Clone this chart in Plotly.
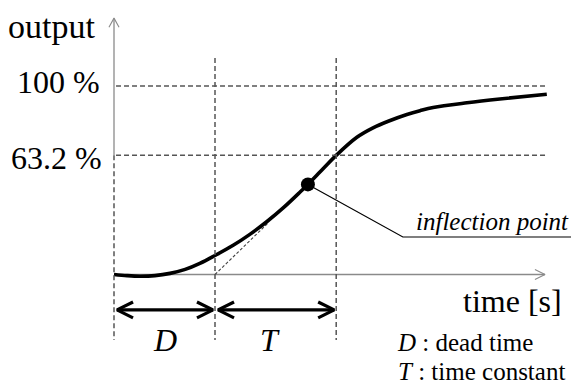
import plotly.graph_objects as go

# Step response of a first-order-plus-dead-time process (schematic)
time_s = [0.0, 0.26, 0.51, 0.81, 1.11, 1.41, 1.70, 2.00, 2.36, 2.69, 3.03, 3.35,
          3.68, 3.84, 4.14, 4.40, 4.81, 5.13, 5.47, 5.80, 6.06, 6.32, 6.99, 7.64, 8.57]
output_pct = [0.0, -0.6, -0.9, -0.6, 0.6, 2.7, 5.9, 10.1, 15.5, 21.3, 28.1, 35.3,
              43.6, 47.8, 56.1, 63.2, 72.8, 77.8, 81.7, 84.9, 86.9, 88.6, 91.1, 93.1, 95.6]

dead_time = 2.0        # D
time_constant = 2.4    # T
inflection_index = 13  # sample at the inflection point

ref_levels = [100, 63.2]
level_labels = ["100 %", "63.2 %"]

FONT = "Liberation Serif"
GRID = "#555555"
AXIS = "#8a8a8a"
DASH = "5px,3px"

# Scale: 50.5 px per second, 1.885 px per percent
X_RANGE = [-2.2574, 9.0495]
Y_RANGE = [-60.74, 145.62]

t_inf = time_s[inflection_index]
v_inf = output_pct[inflection_index]
t_end = dead_time + time_constant

fig = go.Figure()

# horizontal reference levels
for lvl in ref_levels:
    fig.add_shape(type="line", x0=0.04, x1=8.55, y0=lvl, y1=lvl,
                  line=dict(color=GRID, width=1.5, dash=DASH))

# vertical guide lines at 0, D and D+T
fig.add_shape(type="line", x0=0, x1=0, y0=ref_levels[1], y1=-34.7,
              line=dict(color=GRID, width=1.5, dash=DASH))
for tv in [dead_time, t_end]:
    fig.add_shape(type="line", x0=tv, x1=tv, y0=114.9, y1=-34.7,
                  line=dict(color=GRID, width=1.5, dash=DASH))

# axes with open arrowheads
fig.add_trace(go.Scatter(x=[0, 8.535], y=[0, 0], mode="lines",
                         line=dict(color=AXIS, width=1.3), hoverinfo="skip"))
fig.add_trace(go.Scatter(x=[8.535 - 0.2, 8.535, 8.535 - 0.2], y=[2.65, 0, -2.65],
                         mode="lines", line=dict(color=AXIS, width=1.1), hoverinfo="skip"))
fig.add_trace(go.Scatter(x=[0, 0], y=[ref_levels[1], 136], mode="lines",
                         line=dict(color=AXIS, width=1.3), hoverinfo="skip"))
fig.add_trace(go.Scatter(x=[-0.1, 0, 0.1], y=[136 - 4.8, 136, 136 - 4.8],
                         mode="lines", line=dict(color=AXIS, width=1.1), hoverinfo="skip"))

# tangent at the inflection point, from (D, 0)
slope = v_inf / (t_inf - dead_time)
tan_t = [dead_time, 3.05]
tan_v = [slope * (tv - dead_time) for tv in tan_t]
fig.add_trace(go.Scatter(x=tan_t, y=tan_v, mode="lines",
                         line=dict(color="#404040", width=1.1, dash="3px,2px"),
                         hoverinfo="skip"))

# response curve
fig.add_trace(go.Scatter(x=time_s, y=output_pct, mode="lines",
                         line=dict(color="black", width=3.6, shape="spline", smoothing=1.0),
                         hoverinfo="skip"))

# callout line to the label
fig.add_trace(go.Scatter(x=[t_inf, 5.72, 9.2], y=[v_inf, 19.9, 19.9], mode="lines",
                         line=dict(color="black", width=1.2), hoverinfo="skip"))
fig.add_trace(go.Scatter(x=[t_inf], y=[v_inf], mode="markers",
                         marker=dict(color="black", size=14), hoverinfo="skip"))

# double-headed interval arrows for D and T
ARROW_Y = -18.8
HL, HW = 0.317, 4.24
for a, b in [(0, dead_time), (dead_time, t_end)]:
    a2, b2 = a + 0.06, b - 0.04
    fig.add_trace(go.Scatter(x=[a2, b2], y=[ARROW_Y, ARROW_Y], mode="lines",
                             line=dict(color="black", width=3.2), hoverinfo="skip"))
    fig.add_trace(go.Scatter(x=[a2 + HL, a2, a2 + HL], y=[ARROW_Y + HW, ARROW_Y, ARROW_Y - HW],
                             mode="lines", line=dict(color="black", width=3.2), hoverinfo="skip"))
    fig.add_trace(go.Scatter(x=[b2 - HL, b2, b2 - HL], y=[ARROW_Y + HW, ARROW_Y, ARROW_Y - HW],
                             mode="lines", line=dict(color="black", width=3.2), hoverinfo="skip"))

ann = []
def label(text, x, y, size, xanchor="center", yanchor="middle", xshift=0, yshift=0):
    ann.append(dict(text=text, x=x, y=y, xref="x", yref="y", showarrow=False,
                    xanchor=xanchor, yanchor=yanchor, xshift=xshift, yshift=yshift,
                    font=dict(family=FONT, size=size, color="black")))

label("output", -0.337, 131.3, 34, xanchor="right")
label(level_labels[0], -0.238, ref_levels[0], 32, xanchor="right", yshift=4)
label(level_labels[1], -0.198, ref_levels[1], 32, xanchor="right", yshift=-3)
label("time [s]", 7.84, -14.1, 32, xshift=3)
label("<i>D</i>", dead_time / 2, -34.7, 32)
label("<i>T</i>", dead_time + time_constant / 2, -34.7, 32, xshift=-6)
label("<i>inflection point</i>", 8.97, 27.9, 25, xanchor="right", xshift=4)
label("<i>D</i> : dead time", 5.564, -36.3, 25, xanchor="left")
label("<i>T</i> : time constant", 5.584, -51.2, 25, xanchor="left")

fig.update_layout(
    width=571, height=389,
    margin=dict(l=0, r=0, t=0, b=0),
    paper_bgcolor="white", plot_bgcolor="white",
    showlegend=False,
    xaxis=dict(range=X_RANGE, visible=False, fixedrange=True),
    yaxis=dict(range=Y_RANGE, visible=False, fixedrange=True),
    annotations=ann,
)

fig.write_html("out.html")
